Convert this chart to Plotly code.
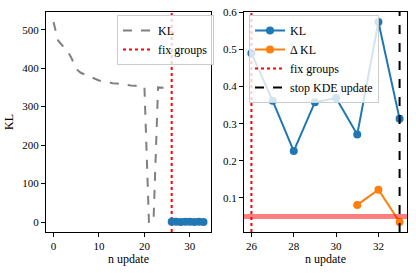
import plotly.graph_objects as go

# ---- data ----
pre_updates = list(range(0, 26))
pre_kl = [520, 472, 458, 447, 425, 398, 388, 384, 378, 373, 368, 366, 363, 361,
          360, 358, 357, 355, 354, 353, 352, 0, 0, 350, 349, 348]
post_updates = [26, 27, 28, 29, 30, 31, 32, 33]
post_kl = [0.49, 0.362, 0.226, 0.358, 0.369, 0.271, 0.574, 0.313]
delta_updates = [31, 32, 33]
delta_kl = [0.081, 0.122, 0.035]
fix_groups_at = 26
stop_kde_at = 33
threshold = 0.05

FONT = "Liberation Serif"
BLUE = "#1f77b4"
ORANGE = "#ff7f0e"

fig = go.Figure()

# left panel
fig.add_trace(go.Scatter(x=pre_updates, y=pre_kl, mode="lines", name="KL",
                         line=dict(color="gray", width=2, dash="dash"),
                         xaxis="x", yaxis="y", legend="legend"))
fig.add_trace(go.Scatter(x=post_updates, y=post_kl, mode="markers", showlegend=False,
                         marker=dict(color=BLUE, size=8),
                         xaxis="x", yaxis="y"))

# right panel
fig.add_trace(go.Scatter(x=post_updates, y=post_kl, mode="lines+markers", name="KL",
                         line=dict(color=BLUE, width=2), marker=dict(color=BLUE, size=8),
                         xaxis="x2", yaxis="y2", legend="legend2", legendrank=1))
fig.add_trace(go.Scatter(x=delta_updates, y=delta_kl, mode="lines+markers", name="Δ KL",
                         line=dict(color=ORANGE, width=2), marker=dict(color=ORANGE, size=8),
                         xaxis="x2", yaxis="y2", legend="legend2", legendrank=2))

shapes = [
    dict(type="line", xref="x", yref="y domain", x0=fix_groups_at, x1=fix_groups_at,
         y0=0, y1=1, line=dict(color="red", width=2, dash="dot"), layer="below",
         showlegend=True, name="fix groups", legend="legend"),
    dict(type="line", xref="x2 domain", yref="y2", x0=0, x1=1, y0=threshold, y1=threshold,
         line=dict(color="rgba(255,0,0,0.5)", width=5), layer="above"),
    dict(type="line", xref="x2", yref="y2 domain", x0=fix_groups_at, x1=fix_groups_at,
         y0=0, y1=1, line=dict(color="red", width=2, dash="dot"), layer="above",
         showlegend=True, name="fix groups", legend="legend2", legendrank=3),
    dict(type="line", xref="x2", yref="y2 domain", x0=stop_kde_at, x1=stop_kde_at,
         y0=0, y1=1, line=dict(color="black", width=2, dash="dash"), layer="above",
         showlegend=True, name="stop KDE update", legend="legend2", legendrank=4),
]

axis_common = dict(showline=True, mirror=True, linecolor="black", linewidth=1,
                   ticks="outside", ticklen=4, tickwidth=1, tickcolor="black",
                   showgrid=False, zeroline=False, automargin=False,
                   tickfont=dict(family=FONT, size=11, color="black"))

ydom = [1 - 232 / 273, 1 - 12 / 273]
legend_common = dict(bgcolor="rgba(255,255,255,0.8)", bordercolor="#cccccc", borderwidth=1,
                     font=dict(family=FONT, size=12, color="black"),
                     xanchor="left", yanchor="top", tracegroupgap=0, itemwidth=30)

fig.update_layout(
    width=416, height=273,
    margin=dict(l=0, r=0, t=0, b=0),
    paper_bgcolor="white", plot_bgcolor="white",
    font=dict(family=FONT, size=12, color="black"),
    shapes=shapes,
    xaxis=dict(domain=[46 / 416, 211 / 416], range=[-1.65, 34.65],
               tickvals=[0, 10, 20, 30], anchor="y",
               title=dict(text="n update", standoff=2, font=dict(family=FONT, size=12)),
               **axis_common),
    yaxis=dict(domain=ydom, range=[-26, 546], tickvals=[0, 100, 200, 300, 400, 500],
               anchor="x",
               title=dict(text="KL", standoff=6, font=dict(family=FONT, size=12)),
               **axis_common),
    xaxis2=dict(domain=[244 / 416, 407 / 416], range=[25.65, 33.35],
                tickvals=[26, 28, 30, 32], anchor="y2",
                title=dict(text="n update", standoff=2, font=dict(family=FONT, size=12)),
                **axis_common),
    yaxis2=dict(domain=ydom, range=[0.008, 0.601],
                tickvals=[0.1, 0.2, 0.3, 0.4, 0.5, 0.6],
                ticktext=["0.1", "0.2", "0.3", "0.4", "0.5", "0.6"], anchor="x2",
                **axis_common),
    legend=dict(x=117 / 416, y=1 - 15 / 273, **legend_common),
    legend2=dict(x=249 / 416, y=1 - 15 / 273, **legend_common),
)

fig.write_html("out.html", config={"displayModeBar": False},
               post_script="document.body.style.margin='0';document.body.style.overflow='hidden';")
